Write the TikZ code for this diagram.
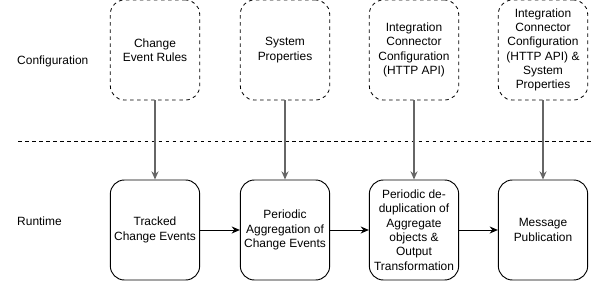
\documentclass[tikz,border=0pt]{standalone}
\usepackage{fontspec}
\setmainfont{Liberation Sans}
\definecolor{flowgray}{RGB}{102, 102, 102}
\usetikzlibrary{arrows.meta, positioning}

\begin{document}
\begin{tikzpicture}[x=0.03cm, y=-0.03cm,
  cfgbox/.style={draw, dashed, rounded corners=12pt, minimum width=2.68cm, minimum height=3cm, align=center, inner sep=1pt, line width=0.7pt, font=\fontsize{10.2}{12.2}\selectfont},
  runbox/.style={draw, rounded corners=12pt, minimum width=2.68cm, minimum height=3cm, align=center, inner sep=1pt, line width=0.8pt, font=\fontsize{10.2}{12.2}\selectfont},
  rowlabel/.style={anchor=west, inner sep=0pt, font=\fontsize{10.2}{12.2}\selectfont},
  cfgarrow/.style={draw=flowgray, line width=1.3pt, -{Stealth[length=7pt, width=6pt, fill=black]}},
  runarrow/.style={draw, line width=0.8pt, -{Stealth[length=7pt, width=6pt]}}
]
  \useasboundingbox (0,0) rectangle (591,281);

  % row labels and separator
  \node[rowlabel] (lblcfg) at (17,61) {Configuration};
  \node[rowlabel] (lblrun) at (17,221) {Runtime};
  \coordinate (sepL) at (18,141);
  \coordinate (sepR) at (591,141);
  \draw[dashed, line width=0.7pt] (sepL) -- (sepR);

  % configuration row
  \node[cfgbox] (rules) at (155,50) {Change\\Event Rules};
  \node[cfgbox] (sysprops) at (285,50) {System\\Properties};
  \node[cfgbox] (httpapi) at (414,50) {Integration\\Connector\\Configuration\\(HTTP API)};
  \node[cfgbox] (httpsys) at (543,50) {Integration\\Connector\\Configuration\\(HTTP API) \&\\System\\Properties};

  % runtime row
  \node[runbox] (tracked) at (155,230) {Tracked\\Change Events};
  \node[runbox] (aggregate) at (285,230) {Periodic\\Aggregation of\\Change Events};
  \node[runbox] (dedup) at (414,230) {Periodic de-\\duplication of\\Aggregate\\objects \&\\Output\\Transformation};
  \node[runbox] (publish) at (543,230) {Message\\Publication};

  % connectors
  \draw[cfgarrow] (rules) -- (tracked);
  \draw[cfgarrow] (sysprops) -- (aggregate);
  \draw[cfgarrow] (httpapi) -- (dedup);
  \draw[cfgarrow] (httpsys) -- (publish);
  \draw[runarrow] (tracked) -- (aggregate);
  \draw[runarrow] (aggregate) -- (dedup);
  \draw[runarrow] (dedup) -- (publish);
\end{tikzpicture}
\end{document}
